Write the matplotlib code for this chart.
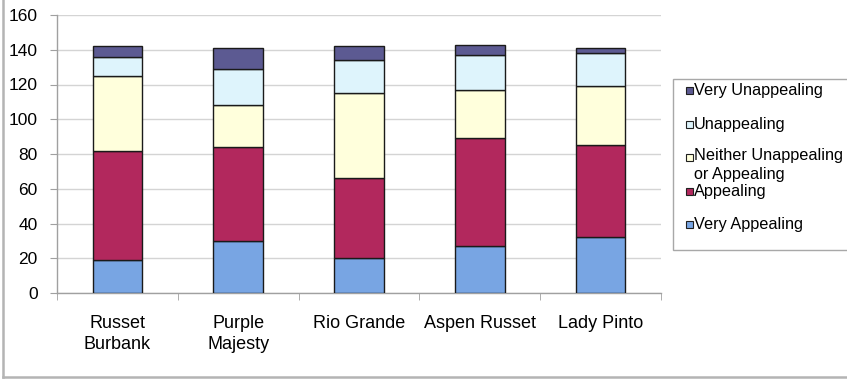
import matplotlib
matplotlib.use("Agg")
import matplotlib.pyplot as plt
from matplotlib.patches import Rectangle
from matplotlib.lines import Line2D
import numpy as np

plt.rcParams["font.family"] = ["Liberation Sans", "DejaVu Sans"]

varieties = ["Russet\nBurbank", "Purple\nMajesty", "Rio Grande", "Aspen Russet", "Lady Pinto"]
very_appealing = [19, 30, 20, 27, 32]
appealing = [63, 54, 46, 62, 53]
neither = [43, 24, 49, 28, 34]
unappealing = [11, 21, 19, 20, 19]
very_unappealing = [6, 12, 8, 6, 3]

series_labels = ["Very Appealing", "Appealing", "Neither Unappealing\nor Appealing",
                 "Unappealing", "Very Unappealing"]
series_colors = ["#78a5e3", "#b2285d", "#ffffdc", "#def4fc", "#5c5a92"]
y_ticks = [0, 20, 40, 60, 80, 100, 120, 140, 160]

W, H = 847, 382
fig = plt.figure(figsize=(W / 100, H / 100), dpi=100)
fig.patch.set_facecolor("white")

ax = fig.add_axes([57 / W, (H - 293) / H, (661 - 57) / W, (293 - 15) / H])
x = np.arange(len(varieties))
bottom = np.zeros(len(varieties))
series = [very_appealing, appealing, neither, unappealing, very_unappealing]
for vals, col in zip(series, series_colors):
    ax.bar(x, vals, width=0.41, bottom=bottom, color=col, edgecolor="#1a1a1a",
           linewidth=1.0, zorder=3)
    bottom += np.array(vals)

ax.set_xlim(-0.5, len(varieties) - 0.5)
ax.set_ylim(0, 160)
ax.set_yticks(y_ticks)
ax.tick_params(axis="y", labelsize=12.5, length=5, color="#a0a0a0", pad=9, direction="out")
ax.yaxis.grid(True, color="#d4d4d4", linewidth=1.0, zorder=0)
ax.set_axisbelow(True)

# category labels centred under bars, tick marks on the category boundaries
ax.set_xticks(x)
ax.set_xticklabels(varieties, fontsize=13, linespacing=1.3)
ax.tick_params(axis="x", length=0, pad=16)
ax.set_xticks(np.arange(-0.5, len(varieties)), minor=True)
ax.tick_params(axis="x", which="minor", length=5, color="#a0a0a0", direction="out")

for side in ["top", "right"]:
    ax.spines[side].set_visible(False)
for side in ["left", "bottom"]:
    ax.spines[side].set_color("#a0a0a0")
    ax.spines[side].set_linewidth(1.0)

# outer chart-area border
def px(xp, yp):
    return xp / W, 1 - yp / H

fig.add_artist(Line2D([2.5 / W, 2.5 / W], [1 - 0 / H, 1 - 377 / H], transform=fig.transFigure,
                      color="#b4b4b4", linewidth=1.8))
fig.add_artist(Line2D([2.5 / W, 1.0], [1 - 377 / H, 1 - 377 / H], transform=fig.transFigure,
                      color="#b4b4b4", linewidth=1.8))

# legend box
lx0, ly0, ly1 = 673, 79, 250
fig.add_artist(Rectangle(px(lx0, ly1), (W + 5 - lx0) / W, (ly1 - ly0) / H,
                         transform=fig.transFigure, facecolor="white",
                         edgecolor="#a8a8a8", linewidth=1.0, zorder=5))
entry_y = [90.7, 124.2, 157.7, 191.2, 224.7]
legend_order = [4, 3, 2, 1, 0]
for yy, idx in zip(entry_y, legend_order):
    sz = 7
    fig.add_artist(Rectangle(px(686, yy + sz / 2), sz / W, sz / H,
                             transform=fig.transFigure, facecolor=series_colors[idx],
                             edgecolor="#202020", linewidth=0.8, zorder=6))
    label = series_labels[idx]
    if "\n" in label:
        fig.text(694 / W, 1 - (yy - 9.5) / H, label, fontsize=11.7, va="top", ha="left",
                 linespacing=1.3, zorder=7)
    else:
        fig.text(694 / W, 1 - yy / H, label, fontsize=11.7, va="center", ha="left", zorder=7)

fig.savefig("out.png", dpi=100, facecolor="white")
